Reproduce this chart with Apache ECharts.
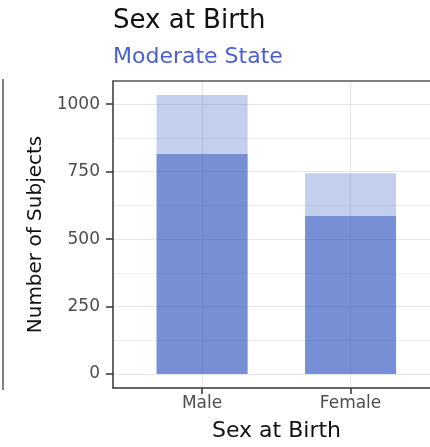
<!DOCTYPE html>
<html>
<head>
<meta charset="utf-8">
<script src="https://cdn.jsdelivr.net/npm/echarts@6/dist/echarts.min.js"></script>
<style>
  html, body { margin: 0; padding: 0; background: #ffffff; }
  #chart { width: 430px; height: 447px; }
</style>
</head>
<body>
<div id="chart"></div>
<script>
// ---- data ----
const categories = ['Male', 'Female'];
const totalCounts = [1034, 744];     // full bar (light)
const subsetCounts = [815, 586];     // overlaid portion (dark)
const yTickValues = [0, 250, 500, 750, 1000];
const yMinorValues = [125, 375, 625, 875];
const titleText = 'Sex at Birth';
const subtitleText = 'Moderate State';
const xTitle = 'Sex at Birth';
const yTitle = 'Number of Subjects';

const catPositions = categories.map((c, i) => i + 1);
const yMax = Math.max(...totalCounts);
const yPad = yMax * 0.05;
// discrete x scale: 0.6 expansion left; panel continues past the right edge of the picture
const xMin = 0.4;
const xMaxVisible = 2.535;

const FONT = 'DejaVu Sans';
const chart = echarts.init(document.getElementById('chart'), null, { renderer: 'canvas' });

const axisLineStyle = { color: '#333333', width: 1.5 };

chart.setOption({
  animation: false,
  backgroundColor: '#ffffff',
  title: [
    { text: titleText, left: 113, top: 8, padding: 0,
      textStyle: { fontFamily: FONT, fontSize: 26, fontWeight: 'normal', color: '#111111' } },
    { text: subtitleText, left: 113, top: 46, padding: 0,
      textStyle: { fontFamily: FONT, fontSize: 22, fontWeight: 'normal', color: '#4a5fd3' } }
  ],
  grid: {
    left: 113, top: 81, right: 0, bottom: 58, show: false
  },
  graphic: [
    { type: 'line', shape: { x1: 3, y1: 79, x2: 3, y2: 390 },
      style: { stroke: '#555555', lineWidth: 1.5 } }
  ],
  xAxis: [
    {
      type: 'value', min: xMin, max: xMaxVisible,
      name: xTitle, nameLocation: 'middle', nameGap: 32,
      nameTextStyle: { fontFamily: FONT, fontSize: 22, color: '#111111', padding: [0, 0, 0, 10] },
      axisLine: { show: true, onZero: false, lineStyle: axisLineStyle },
      axisTick: { show: true, length: 6, customValues: catPositions, lineStyle: axisLineStyle },
      axisLabel: { show: true, customValues: catPositions, margin: 7,
        fontFamily: FONT, fontSize: 17, color: '#4d4d4d',
        formatter: v => categories[Math.round(v) - 1] || '' },
      splitLine: { show: true, lineStyle: { color: '#e6e6e6', width: 1.2 } }
    },
    {
      type: 'value', min: xMin, max: xMaxVisible, position: 'top',
      axisLine: { show: true, onZero: false, lineStyle: { color: '#555555', width: 1.5 } },
      axisTick: { show: false }, axisLabel: { show: false }, splitLine: { show: false }
    }
  ],
  yAxis: [
    {
      type: 'value', min: -yPad, max: yMax + yPad,
      name: yTitle, nameLocation: 'middle', nameGap: 57, nameRotate: 90,
      nameTextStyle: { fontFamily: FONT, fontSize: 20, color: '#111111' },
      axisLine: { show: true, onZero: false, lineStyle: axisLineStyle },
      axisTick: { show: true, length: 7, customValues: yTickValues, lineStyle: axisLineStyle },
      axisLabel: { show: true, customValues: yTickValues, margin: 13,
        fontFamily: FONT, fontSize: 17, color: '#4d4d4d',
        formatter: v => String(v) },
      splitLine: { show: true, lineStyle: { color: '#e6e6e6', width: 1.2 } }
    },
    {
      type: 'value', min: -yPad, max: yMax + yPad, position: 'left',
      axisLine: { show: false },
      axisTick: { show: false, customValues: yMinorValues },
      axisLabel: { show: false, customValues: yMinorValues },
      splitLine: { show: true, lineStyle: { color: '#eeeeee', width: 1 } }
    }
  ],
  series: [
    {
      name: 'Total', type: 'bar', yAxisIndex: 0,
      data: catPositions.map((x, i) => [x, totalCounts[i]]),
      barWidth: 91, barGap: '-100%',
      itemStyle: { color: 'rgba(58,95,195,0.30)' }
    },
    {
      name: 'Subset', type: 'bar', yAxisIndex: 0,
      data: catPositions.map((x, i) => [x, subsetCounts[i]]),
      barWidth: 91, barGap: '-100%',
      itemStyle: { color: 'rgba(58,95,195,0.56)' }
    }
  ]
});
</script>
</body>
</html>
